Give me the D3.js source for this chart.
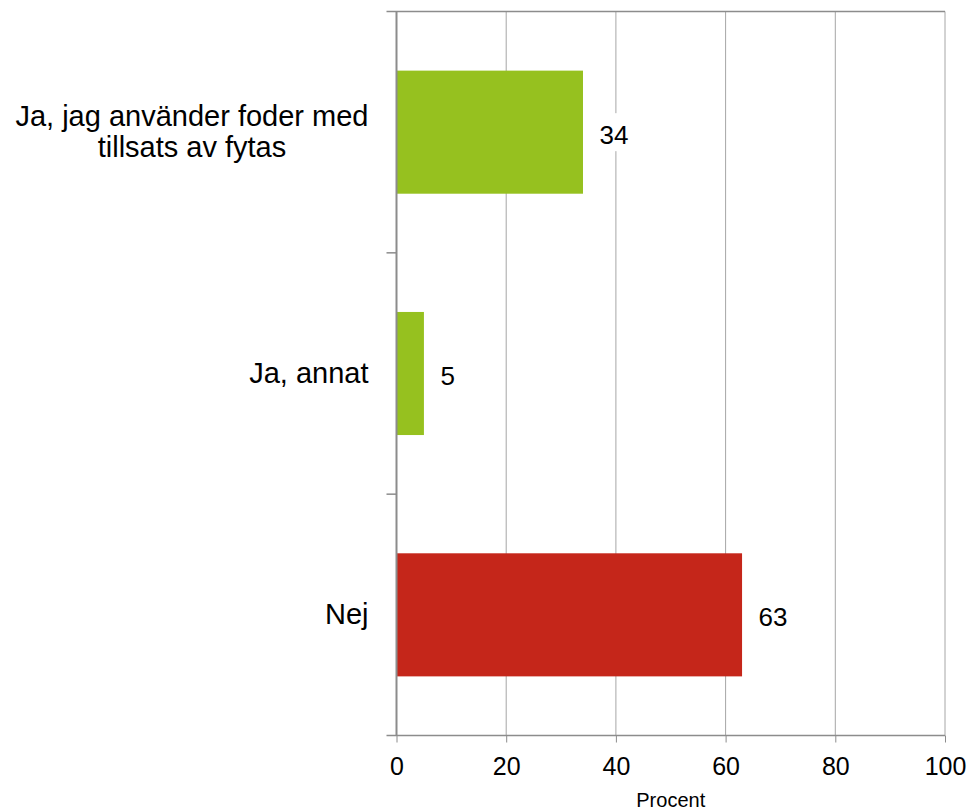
<!DOCTYPE html>
<meta charset="utf-8">
<style>
body { margin: 0; background: #fff; }
text { font-family: "Liberation Sans", Arial, sans-serif; fill: #000; }
</style>
<svg width="972" height="811"></svg>
<script src="https://d3js.org/d3.v7.min.js"></script>
<script>

var categories = [["Ja, jag använder foder med", "tillsats av fytas"], ["Ja, annat"], ["Nej"]];
var values = [34, 5, 63];
var barColors = ["#96c11f", "#96c11f", "#c5261a"];
var xTicks = [0, 20, 40, 60, 80, 100];
var xTitle = "Procent";

var svg = d3.select("svg"),
    margin = {top: 11.5, right: 27, bottom: 75.5, left: 396.5},
    width = 972 - margin.left - margin.right,
    height = 811 - margin.top - margin.bottom,
    g = svg.append("g").attr("transform", "translate(" + margin.left + "," + margin.top + ")");

var ids = categories.map(function(d, i) { return i; });

var x = d3.scaleLinear().domain([0, 100]).range([0, width]);
var y = d3.scaleBand().domain(ids).range([0, height]).paddingInner(0.49).paddingOuter(0.245);
var yb = d3.scaleBand().domain(ids).range([0, height]);

// gridlines
g.selectAll(".grid").data(xTicks.slice(1))
  .enter().append("line")
    .attr("x1", function(d) { return x(d); })
    .attr("x2", function(d) { return x(d); })
    .attr("y1", 0).attr("y2", height)
    .attr("stroke", "#a6a6a6").attr("stroke-width", 1);

// top border
g.append("line").attr("x1", -10).attr("x2", width).attr("y1", 0).attr("y2", 0)
  .attr("stroke", "#8c8c8c").attr("stroke-width", 1.5);

// bars
g.selectAll(".bar").data(values)
  .enter().append("rect")
    .attr("x", x(0))
    .attr("y", function(d, i) { return y(i); })
    .attr("width", function(d) { return x(d) - x(0); })
    .attr("height", y.bandwidth())
    .attr("fill", function(d, i) { return barColors[i]; });

// value labels with white background
var vl = g.selectAll(".vlab").data(values).enter().append("g")
  .attr("transform", function(d, i) { return "translate(" + (x(d) + 16.5) + "," + (y(i) + y.bandwidth() / 2) + ")"; });
vl.append("rect").attr("x", -3).attr("y", -19).attr("width", 36).attr("height", 38).attr("fill", "#fff");
vl.append("text").attr("dy", "0.44em").style("font-size", "26px").text(function(d) { return d; });

// left axis
g.append("line").attr("x1", 0).attr("x2", 0).attr("y1", 0).attr("y2", height)
  .attr("stroke", "#8c8c8c").attr("stroke-width", 2);
g.selectAll(".ytick").data(ids.slice(1))
  .enter().append("line")
    .attr("x1", -10).attr("x2", 0)
    .attr("y1", function(d) { return yb(d); })
    .attr("y2", function(d) { return yb(d); })
    .attr("stroke", "#8c8c8c").attr("stroke-width", 1.5);

// bottom axis
var xAxis = g.append("g")
  .attr("transform", "translate(0," + height + ")")
  .call(d3.axisBottom(x).tickValues(xTicks).tickSize(7).tickPadding(15));
xAxis.select(".domain").attr("d", "M-10,0H" + width).attr("stroke", "#8c8c8c").attr("stroke-width", 1.5);
xAxis.selectAll(".tick line").attr("stroke", "#8c8c8c");
xAxis.selectAll(".tick text").style("font-size", "25px").style("font-family", "Liberation Sans, Arial, sans-serif").attr("fill", "#000");

// category labels, block centred, right edge at the axis
var cl = g.selectAll(".clab").data(categories).enter().append("text")
  .attr("text-anchor", "middle")
  .style("font-size", "29px")
  .attr("transform", function(d, i) { return "translate(0," + (yb(i) + yb.bandwidth() / 2) + ")"; });
cl.each(function(lines) {
  var t = d3.select(this);
  lines.forEach(function(s, j) {
    t.append("tspan").attr("x", 0).attr("y", (j - (lines.length - 1) / 2) * 31).attr("dy", "0.33em").text(s);
  });
  var w = this.getBBox().width;
  t.selectAll("tspan").attr("x", -28 - w / 2);
});

// axis title
g.append("text")
  .attr("x", width / 2).attr("y", height + 71)
  .attr("text-anchor", "middle")
  .style("font-size", "20px")
  .text(xTitle);

</script>
